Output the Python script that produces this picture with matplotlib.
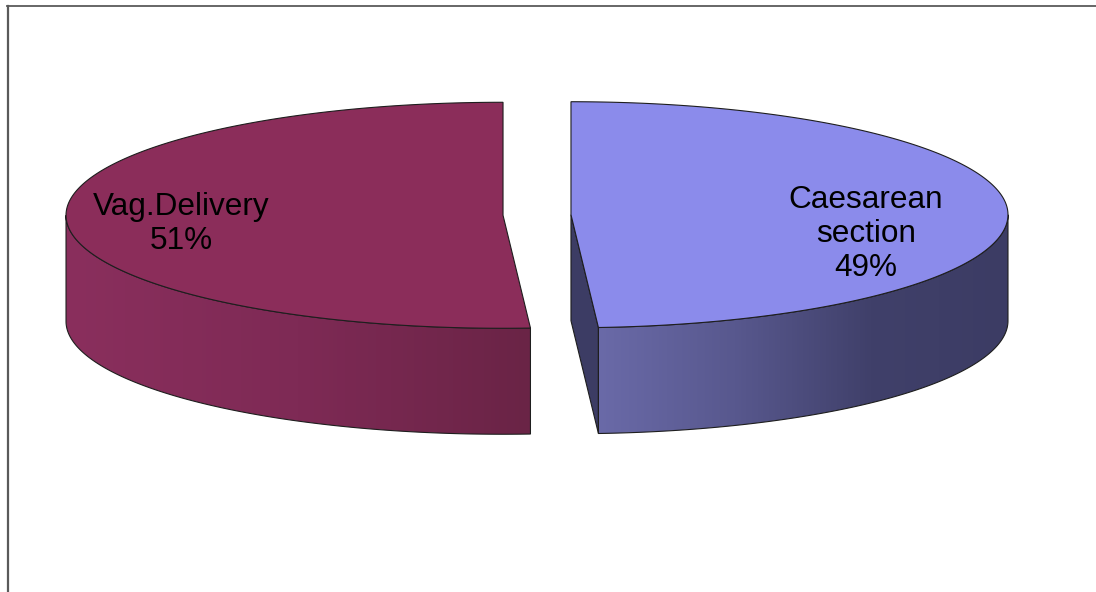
import numpy as np
import matplotlib
matplotlib.use('Agg')
from matplotlib import pyplot as plt
from matplotlib.patches import Polygon
from matplotlib.colors import LinearSegmentedColormap
from matplotlib.lines import Line2D

# slices go clockwise from 12 o'clock
labels = ['Caesarean\nsection', 'Vag.Delivery']
shares = [49, 51]

top_colors = ['#8b8beb', '#8b2d5a']
side_stops = [['#6a6aa8', '#58588e', '#40406a', '#3c3c64'],
              ['#8a2f5d', '#7e2a55', '#6a2446']]
cut_colors = ['#3c3c64', '#5e1f3d']
label_pos = [(866, 234), (181, 224)]

W, H = 1096, 592
cx, cy = 537, 215      # centre of the top ellipse
a, b = 437, 113        # semi axes
depth = 106
explode = 34
edge = '#1e1e1e'


def rim(theta, ox, oy):
	t = np.radians(theta)
	return ox + a * np.sin(t), oy - b * np.cos(t)


fig = plt.figure(figsize=(W / 100, H / 100), dpi=100)
ax = fig.add_axes([0, 0, 1, 1])
ax.set_axis_off()

total = float(sum(shares))
start = 0.0
for i, share in enumerate(shares):
	sweep = 360.0 * share / total
	t1, t2 = start, start + sweep
	start = t2
	mid = np.radians((t1 + t2) / 2)
	ox = cx + explode * np.sin(mid)
	oy = cy - explode * np.cos(mid) * b / a

	# outer wall, only the part facing the viewer
	w1, w2 = max(t1, 90.0), min(t2, 270.0)
	if w2 > w1:
		th = np.linspace(w1, w2, 200)
		xs, ys = rim(th, ox, oy)
		wall = np.vstack([np.column_stack([xs, ys]),
		                  np.column_stack([xs[::-1], ys[::-1] + depth])])
		poly = Polygon(wall, closed=True, facecolor='none', edgecolor='none')
		ax.add_patch(poly)
		cmap = LinearSegmentedColormap.from_list('side%d' % i, side_stops[i])
		grad = np.linspace(0, 1, 256)[None, :]
		im = ax.imshow(grad, cmap=cmap, aspect='auto', interpolation='bilinear',
		               extent=(xs.min(), xs.max(), ys.max() + depth, ys.min()), zorder=1)
		im.set_clip_path(poly)
		ax.add_patch(Polygon(wall, closed=True, facecolor='none', edgecolor=edge,
		                     lw=0.8, zorder=3))

	# cut faces that turn toward the viewer
	for th_cut, sign in ((t1, -1), (t2, 1)):
		if sign * np.sin(np.radians(th_cut)) > 1e-6:
			px, py = rim(th_cut, ox, oy)
			face = [(ox, oy), (px, py), (px, py + depth), (ox, oy + depth)]
			ax.add_patch(Polygon(face, closed=True, facecolor=cut_colors[i],
			                     edgecolor=edge, lw=0.8, zorder=2))

	# top face
	th = np.linspace(t1, t2, 300)
	xs, ys = rim(th, ox, oy)
	top = np.vstack([[ox, oy], np.column_stack([xs, ys])])
	ax.add_patch(Polygon(top, closed=True, facecolor=top_colors[i],
	                     edgecolor=edge, lw=0.8, zorder=4))

	ax.text(label_pos[i][0], label_pos[i][1], labels[i] + '\n%d%%' % share,
	        ha='center', va='center', fontsize=22.7, family='Liberation Sans',
	        linespacing=1.18, color='black', zorder=5)

ax.set_xlim(0, W)
ax.set_ylim(H, 0)

# frame around the chart area
fig.add_artist(Line2D([7 / W, 1], [1 - 6 / H, 1 - 6 / H], color='#5a5a5a', lw=1.3))
fig.add_artist(Line2D([7.5 / W, 7.5 / W], [0, 1 - 6 / H], color='#5a5a5a', lw=1.6))

fig.savefig('out.png', dpi=100, facecolor='white')
